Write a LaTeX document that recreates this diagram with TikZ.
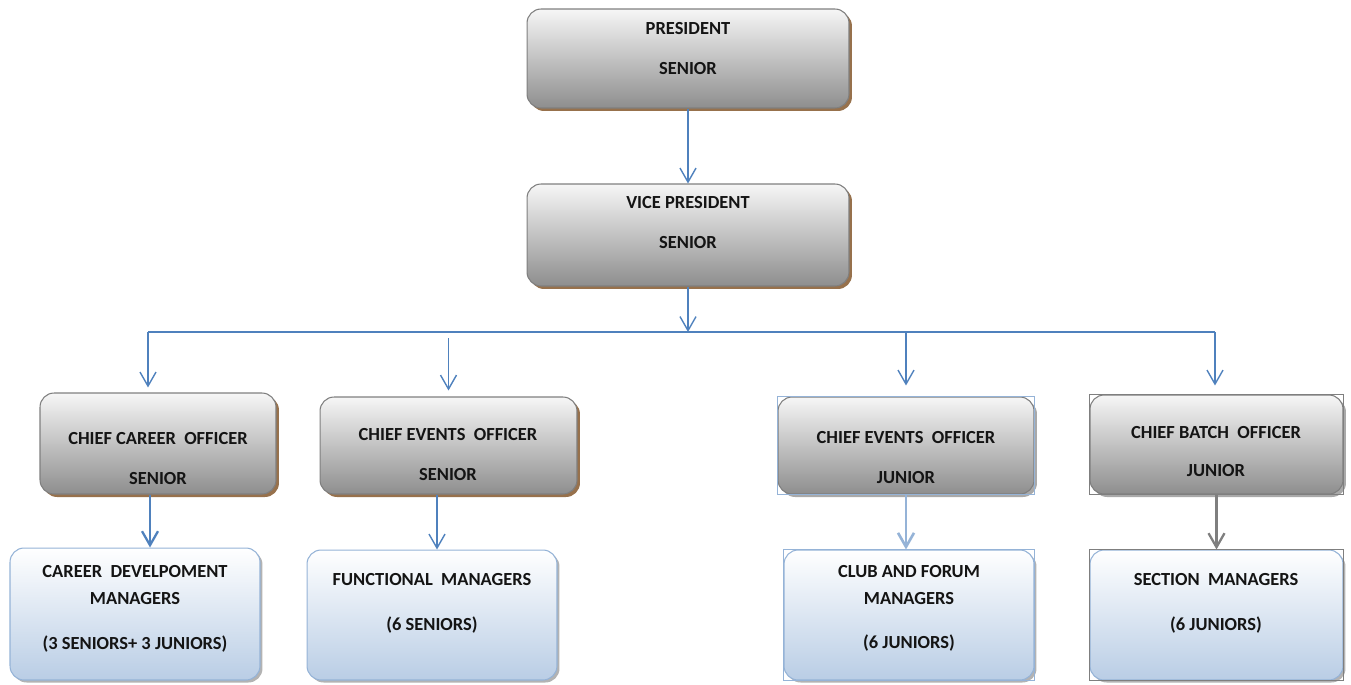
\documentclass[tikz,border=0pt]{standalone}
\usepackage{fontspec}
\setmainfont{Carlito}
\usetikzlibrary{
  arrows.meta,
  calc,
  positioning,
  shadows
}
\definecolor{orgInk}{HTML}{141414}
\definecolor{orgBlue}{HTML}{4F81BD}
\definecolor{orgPale}{HTML}{95B3D7}
\definecolor{orgSky}{HTML}{B9CDE5}
\definecolor{orgMist}{HTML}{FFFFFF}
\definecolor{orgGreyTop}{HTML}{F6F6F6}
\definecolor{orgGreyBot}{HTML}{8E8E8E}
\definecolor{orgEdge}{HTML}{7F7F7F}
\definecolor{orgBrown}{HTML}{8C6239}
\definecolor{orgShade}{HTML}{A0A0A0}
\tikzset{
  every node/.style={font=\bfseries\fontsize{10.5}{12.6}\selectfont, text=orgInk},
  officer/.style={
    rounded corners=8pt,
    draw=orgEdge,
    line width=0.6pt,
    top color=orgGreyTop,
    bottom color=orgGreyBot,
    inner sep=0pt,
    drop shadow={shadow xshift=0.06cm, shadow yshift=-0.06cm, fill=#1, opacity=0.9}
  },
  officer/.default=orgBrown,
  team/.style={
    rounded corners=8pt,
    draw=orgPale,
    line width=0.6pt,
    top color=orgMist,
    bottom color=orgSky,
    inner sep=0pt,
    drop shadow={shadow xshift=0.05cm, shadow yshift=-0.05cm, fill=orgShade, opacity=0.8}
  },
  caption/.style={align=center, inner sep=0pt},
  frame/.style={draw=#1, line width=0.6pt},
  link/.style={
    -{Straight Barb[length=2.8mm,width=3.2mm]},
    line width=0.8pt,
    draw=orgBlue
  },
  bus/.style={line width=0.8pt, draw=orgBlue}
}

\begin{document}
\begin{tikzpicture}[x=0.02cm,y=-0.02cm]
  \useasboundingbox (0,0) rectangle (1351,684);

  % top of the chart
  \node[officer, minimum width=6.44cm, minimum height=1.98cm] (pres) at (688,58.5) {};
  \node[officer, minimum width=6.44cm, minimum height=2.04cm] (vp) at (688,235) {};

  % chief officers
  \node[officer, minimum width=4.72cm, minimum height=2.02cm] (cco) at (158,443.5) {};
  \node[officer, minimum width=5.14cm, minimum height=1.94cm] (ceos) at (448.5,445.5) {};
  \node[officer=orgShade, minimum width=5.12cm, minimum height=1.94cm] (ceoj) at (906,445.5) {};
  \node[officer=orgShade, minimum width=5.06cm, minimum height=1.98cm] (cbo) at (1216.5,444.5) {};

  % managers
  \node[team, minimum width=5.0cm, minimum height=2.64cm] (cdm) at (135,614) {};
  \node[team, minimum width=5.0cm, minimum height=2.6cm] (fm) at (432,615) {};
  \node[team, minimum width=5.0cm, minimum height=2.6cm] (cfm) at (909,615) {};
  \node[team, minimum width=5.06cm, minimum height=2.6cm] (sm) at (1216.5,615) {};

  \draw[frame=orgPale] (ceoj.north west) rectangle (ceoj.south east);
  \draw[frame=orgPale] (cfm.north west) rectangle (cfm.south east);
  \draw[frame=orgEdge] (cbo.north west) rectangle (cbo.south east);
  \draw[frame=orgEdge] (sm.north west) rectangle (sm.south east);

  \node[caption] (pres-txt) at (688,48.5) {PRESIDENT\\[0.376cm]SENIOR};
  \node[caption] (vp-txt) at (688,222.5) {VICE PRESIDENT\\[0.376cm]SENIOR};
  \node[caption] (cco-txt) at (158,458.5) {CHIEF CAREER\ \ OFFICER\\[0.376cm]SENIOR};
  \node[caption] (ceos-txt) at (448,454.5) {CHIEF EVENTS\ \ OFFICER\\[0.376cm]SENIOR};
  \node[caption] (ceoj-txt) at (906,457.5) {CHIEF EVENTS\ \ OFFICER\\[0.376cm]JUNIOR};
  \node[caption] (cbo-txt) at (1216,451.5) {CHIEF BATCH\ \ OFFICER\\[0.336cm]JUNIOR};
  \node[caption] (cdm-txt) at (135,609) {CAREER\ \ DEVELPOMENT\\[0.096cm]MANAGERS\\[0.456cm](3 SENIORS+ 3 JUNIORS)};
  \node[caption] (fm-txt) at (432,603.5) {FUNCTIONAL\ \ MANAGERS\\[0.456cm](6 SENIORS)};
  \node[caption] (cfm-txt) at (909,608.5) {CLUB AND FORUM\\[0.096cm]MANAGERS\\[0.436cm](6 JUNIORS)};
  \node[caption] (sm-txt) at (1216,603.5) {SECTION\ \ MANAGERS\\[0.456cm](6 JUNIORS)};

  % connectors
  \coordinate (busW) at (148,332);
  \coordinate (busE) at (1215,332);
  \draw[link] (pres.south) -- (vp.north);
  \draw[bus] (busW) -- (busE);
  \draw[link] (vp.south) -- (vp.south |- busW);
  \draw[link, shorten >=0.1cm] (busW) -- (busW |- cco.north);
  \draw[link, shorten <=0.12cm, shorten >=0.12cm] (ceos.north |- busW) -- (ceos.north);
  \draw[link, shorten >=0.22cm] (ceoj.north |- busW) -- (ceoj.north);
  \draw[link, shorten >=0.18cm] (busE) -- (busE |- cbo.north);

  \draw[link, line width=1.3pt] ([xshift=-0.16cm]cco.south) -- ([xshift=-0.16cm]cco.south |- cdm.north);
  \draw[link] ([xshift=0.1cm]fm.north |- ceos.south) -- ([xshift=0.1cm]fm.north);
  \draw[link, draw=orgPale, line width=1.5pt] (ceoj.south) -- (ceoj.south |- cfm.north);
  \draw[link, draw=orgEdge, line width=1.3pt] (cbo.south) -- (cbo.south |- sm.north);
\end{tikzpicture}
\end{document}
